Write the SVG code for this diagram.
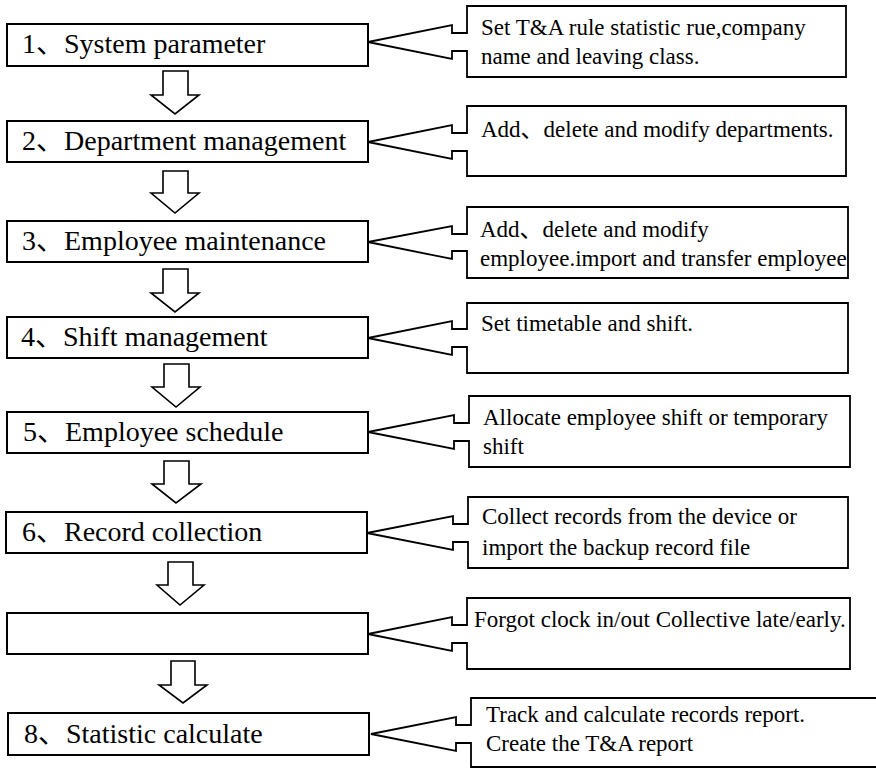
<svg xmlns="http://www.w3.org/2000/svg" width="876" height="768" viewBox="0 0 876 768">
<style>
.box{fill:#fff;stroke:#000;stroke-width:2}
.call{fill:#fff;stroke:#000;stroke-width:1.8;stroke-linejoin:miter}
.arr{fill:#fff;stroke:#000;stroke-width:1.6;stroke-linejoin:miter}
.bt{font-family:"Liberation Serif","Noto Sans CJK SC",serif;font-size:28px;fill:#000}
.ct{font-family:"Liberation Serif","Noto Sans CJK SC",serif;font-size:23px;fill:#000}
</style>
<rect width="876" height="768" fill="#fff"/>
<g id="connectors">
<path class="arr" d="M163,71 H188 V95 H199 L175,114 L151,95 H163 Z"/>
<path class="arr" d="M163,171 H188 V193 H199 L175,213 L151,193 H163 Z"/>
<path class="arr" d="M163,269 H188 V293 H199 L175,312 L151,293 H163 Z"/>
<path class="arr" d="M164,364 H189 V387 H200 L176,407 L152,387 H164 Z"/>
<path class="arr" d="M164,461 H189 V484 H201 L176,503 L152,484 H164 Z"/>
<path class="arr" d="M168,562 H193 V585 H204 L180,605 L157,585 H168 Z"/>
<path class="arr" d="M171,661 H195 V685 H207 L183,703 L159,685 H171 Z"/>
</g>
<g id="n1">
<rect class="box" x="7" y="24" width="361" height="42"/>
<text class="bt" x="22" y="53">1、System parameter</text>
</g>
<g id="c1">
<path class="call" d="M467,6 H846 V77 H467 V51 H452 V59 L368,42 L452,25 V33 H467 Z"/>
<text class="ct" x="481" y="35">Set T&amp;A rule statistic rue,company</text>
<text class="ct" x="481" y="64">name and leaving class.</text>
</g>
<g id="n2">
<rect class="box" x="7" y="121" width="361" height="41"/>
<text class="bt" x="22" y="150">2、Department management</text>
</g>
<g id="c2">
<path class="call" d="M467,106 H846 V176 H467 V151 H452 V159 L368,142 L452,125 V133 H467 Z"/>
<text class="ct" x="481" y="137">Add、delete and modify departments.</text>
</g>
<g id="n3">
<rect class="box" x="7" y="221" width="361" height="41"/>
<text class="bt" x="22" y="250">3、Employee maintenance</text>
</g>
<g id="c3">
<path class="call" d="M467,207 H848 V278 H467 V251 H452 V259 L368,242 L452,226 V234 H467 Z"/>
<text class="ct" x="480" y="237">Add、delete and modify</text>
<text class="ct" x="480" y="266">employee.import and transfer employee</text>
</g>
<g id="n4">
<rect class="box" x="7" y="317" width="361" height="41"/>
<text class="bt" x="21" y="346">4、Shift management</text>
</g>
<g id="c4">
<path class="call" d="M467,303 H848 V373 H467 V347 H452 V355 L368,338 L452,321 V329 H467 Z"/>
<text class="ct" x="481" y="331">Set timetable and shift.</text>
</g>
<g id="n5">
<rect class="box" x="7" y="412" width="361" height="41"/>
<text class="bt" x="23" y="441">5、Employee schedule</text>
</g>
<g id="c5">
<path class="call" d="M469,396 H850 V467 H469 V441 H454 V449 L368,432 L454,415 V423 H469 Z"/>
<text class="ct" x="483" y="425">Allocate employee shift or temporary</text>
<text class="ct" x="483" y="454">shift</text>
</g>
<g id="n6">
<rect class="box" x="6" y="512" width="361" height="41"/>
<text class="bt" x="22" y="541">6、Record collection</text>
</g>
<g id="c6">
<path class="call" d="M468,497 H848 V568 H468 V542 H453 V550 L367,533 L453,516 V524 H468 Z"/>
<text class="ct" x="482" y="524">Collect records from the device or</text>
<text class="ct" x="482" y="555">import the backup record file</text>
</g>
<g id="n7">
<rect class="box" x="7" y="613" width="361" height="41"/>
</g>
<g id="c7">
<path class="call" d="M467,598 H850 V669 H467 V643 H452 V651 L368,634 L452,617 V625 H467 Z"/>
<text class="ct" x="474" y="627">Forgot clock in/out Collective late/early.</text>
</g>
<g id="n8">
<rect class="box" x="8" y="713" width="361" height="42"/>
<text class="bt" x="24" y="743">8、Statistic calculate</text>
</g>
<g id="c8">
<path class="call" d="M471,698 H890 V767 H471 V743 H456 V751 L371,734 L456,717 V725 H471 Z"/>
<text class="ct" x="486" y="722">Track and calculate records report.</text>
<text class="ct" x="486" y="751">Create the T&amp;A report</text>
</g>
</svg>
